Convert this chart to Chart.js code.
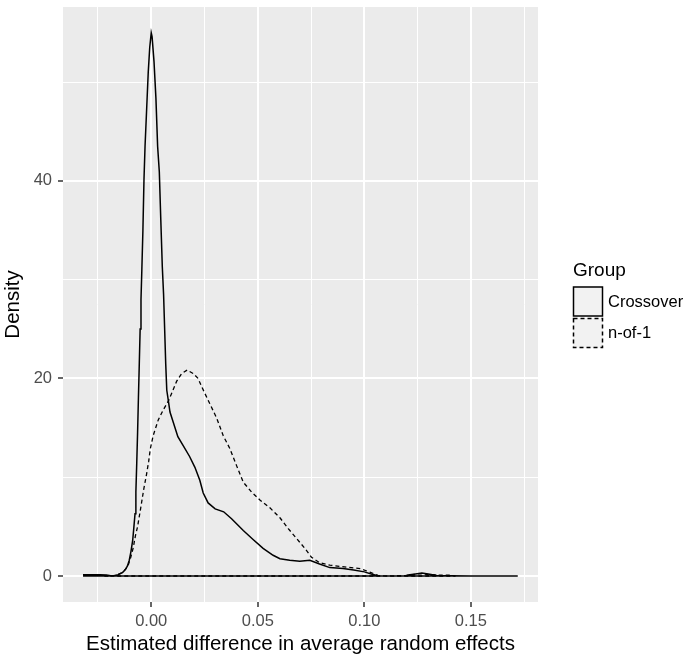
<!DOCTYPE html>
<html>
<head>
<meta charset="utf-8">
<script src="https://cdn.jsdelivr.net/npm/chart.js@4"></script>
<style>
  html, body { margin: 0; padding: 0; background: #fff; }
</style>
</head>
<body>
<canvas id="densityChart" width="693" height="662"></canvas>
<script>
// density estimates
var crossoverX = [-0.032, -0.028, -0.024, -0.021, -0.019, -0.017, -0.0155, -0.0135, -0.0123, -0.0112,
  -0.0103, -0.0095, -0.0087, -0.0082, -0.0076, -0.0072, -0.0068, -0.0064, -0.0060, -0.0056,
  -0.0052, -0.0048, -0.0044, -0.0039, -0.0034, -0.0029, -0.0022, -0.0014, -0.0007, 0.0000,
  0.0004, 0.0013, 0.0022, 0.0030, 0.0038, 0.0045, 0.0052, 0.0058, 0.0063, 0.0068,
  0.0073, 0.0080, 0.0088, 0.0103, 0.0125, 0.0150, 0.0180, 0.0205, 0.0228, 0.0244,
  0.0267, 0.0300, 0.0340, 0.0377, 0.0432, 0.0478, 0.0525, 0.0572, 0.0604, 0.0650,
  0.0697, 0.0744, 0.0790, 0.0838, 0.0900, 0.0950, 0.1000, 0.1040, 0.1065, 0.1120,
  0.1190, 0.1205, 0.1240, 0.1270, 0.1300, 0.1340, 0.1400, 0.1500, 0.1720];
var crossoverY = [0.12, 0.14, 0.12, 0.10, 0.02, 0.05, 0.14, 0.35, 0.6, 1.0,
  1.6, 2.5, 3.6, 4.8, 6.3, 8.5, 11.4, 14.5, 18.1, 21.5,
  25.0, 28.0, 31.0, 35.0, 40.1, 43.5, 47.0, 51.0, 53.5, 55.0,
  54.6, 52.1, 48.4, 43.5, 40.9, 36.0, 31.3, 28.5, 25.0, 21.5,
  18.8, 17.8, 16.6, 15.6, 14.1, 13.2, 12.1, 11.0, 9.7, 8.4,
  7.4, 6.8, 6.5, 5.8, 4.6, 3.7, 2.8, 2.1, 1.75, 1.6,
  1.5, 1.6, 1.22, 0.85, 0.75, 0.6, 0.42, 0.15, 0.02, 0,
  0, 0.1, 0.2, 0.3, 0.2, 0.05, 0.02, 0, 0];

var nOf1X = [-0.022, -0.0194, -0.0165, -0.0146, -0.0130, -0.0118, -0.0108, -0.0096, -0.0084, -0.0074,
  -0.0064, -0.0050, -0.0035, -0.0022, -0.0012, -0.0004, 0.0009, 0.0033, 0.0056, 0.0080,
  0.0096, 0.0119, 0.0143, 0.0169, 0.0197, 0.0220, 0.0236, 0.0267, 0.0307, 0.0338,
  0.0369, 0.0400, 0.0432, 0.0471, 0.0510, 0.0557, 0.0604, 0.0643, 0.0682, 0.0721,
  0.0752, 0.0790, 0.0838, 0.0917, 0.0980, 0.1026, 0.1065, 0.1100, 0.1200, 0.1260,
  0.1300, 0.1350, 0.1400, 0.1425];
var nOf1Y = [0, 0, 0.08, 0.24, 0.5, 0.75, 1.1, 1.9, 2.9, 4.1,
  5.0, 6.8, 8.8, 10.3, 11.6, 12.9, 14.2, 15.8, 16.8, 17.7,
  18.5, 19.7, 20.5, 20.85, 20.5, 20.0, 19.2, 17.8, 16.0, 14.2,
  12.9, 11.2, 9.5, 8.5, 7.7, 6.9, 5.9, 4.8, 3.8, 2.8,
  1.9, 1.35, 1.1, 0.9, 0.75, 0.4, 0.05, 0, 0.05, 0.25,
  0.15, 0.1, 0.08, 0.02];

var groupLabels = ['Crossover', 'n-of-1'];

var xGridValues = [-0.025, 0, 0.025, 0.05, 0.075, 0.1, 0.125, 0.15, 0.175];
var xMajorValues = [0, 0.05, 0.1, 0.15];
var xTickLabels = ['0.00', '0.05', '0.10', '0.15'];
var yGridValues = [0, 10, 20, 30, 40, 50];
var yMajorValues = [0, 20, 40];
var yTickLabels = ['0', '20', '40'];

var FONT = '"Liberation Sans", Arial, sans-serif';

// outline goes along the curve and back along the baseline, like geom_density
function outline(xs, ys) {
  var pts = xs.map(function (x, i) { return { x: x, y: ys[i] }; });
  pts.push({ x: xs[xs.length - 1], y: 0 });
  pts.push({ x: xs[0], y: 0 });
  return pts;
}

function majorIndex(list, v) {
  for (var i = 0; i < list.length; i++) {
    if (Math.abs(list[i] - v) < 1e-9) return i;
  }
  return -1;
}

var panelBackground = {
  id: 'panelBackground',
  beforeDraw: function (chart) {
    var a = chart.chartArea;
    var ctx = chart.ctx;
    ctx.save();
    ctx.fillStyle = '#ebebeb';
    ctx.fillRect(a.left, a.top, a.right - a.left, a.bottom - a.top);
    ctx.restore();
  }
};

var groupLegend = {
  id: 'groupLegend',
  afterDraw: function (chart, args, opts) {
    var ctx = chart.ctx;
    ctx.save();
    ctx.textBaseline = 'middle';
    ctx.textAlign = 'left';
    ctx.fillStyle = '#000';
    ctx.font = '19px ' + FONT;
    ctx.fillText(opts.title, 573, 271);
    chart.data.datasets.forEach(function (ds, i) {
      var top = 286.5 + i * 31.5;
      ctx.fillStyle = '#f2f2f2';
      ctx.fillRect(573, top, 30, 30);
      ctx.strokeStyle = ds.borderColor;
      ctx.lineWidth = 1.5;
      ctx.setLineDash(ds.borderDash || []);
      ctx.strokeRect(573.5, top + 0.5, 29, 29);
      ctx.setLineDash([]);
      ctx.fillStyle = '#000';
      ctx.font = '16.5px ' + FONT;
      ctx.fillText(ds.label, 608, top + 15.5);
    });
    ctx.restore();
  }
};

var ctx = document.getElementById('densityChart').getContext('2d');
var densityChart = new Chart(ctx, {
  type: 'line',
  data: {
    datasets: [
      {
        label: groupLabels[0],
        data: outline(crossoverX, crossoverY),
        borderColor: '#000',
        backgroundColor: '#f2f2f2',
        borderWidth: 1.5,
        pointRadius: 0,
        tension: 0,
        fill: false
      },
      {
        label: groupLabels[1],
        data: outline(nOf1X, nOf1Y),
        borderColor: '#000',
        backgroundColor: '#f2f2f2',
        borderWidth: 1.3,
        borderDash: [4, 3],
        pointRadius: 0,
        tension: 0,
        fill: false
      }
    ]
  },
  options: {
    responsive: false,
    animation: false,
    layout: { padding: { left: 0, right: 155, top: 7, bottom: 0 } },
    plugins: {
      legend: { display: false },
      tooltip: { enabled: false },
      groupLegend: { title: 'Group' }
    },
    scales: {
      x: {
        type: 'linear',
        min: -0.0414,
        max: 0.1815,
        afterFit: function (scale) {
          scale.height = 60;
          scale.paddingLeft = 0;
          scale.paddingRight = 0;
        },
        afterBuildTicks: function (scale) {
          scale.ticks = xGridValues.map(function (v) { return { value: v }; });
        },
        border: { display: false },
        grid: {
          color: '#ffffff',
          lineWidth: function (c) { return majorIndex(xMajorValues, c.tick.value) >= 0 ? 2 : 1; },
          tickColor: function (c) { return majorIndex(xMajorValues, c.tick.value) >= 0 ? '#333333' : 'rgba(0,0,0,0)'; },
          tickWidth: 1.5,
          tickLength: 5
        },
        ticks: {
          autoSkip: false,
          maxRotation: 0,
          padding: 5,
          color: '#4d4d4d',
          font: { family: FONT, size: 16.5 },
          callback: function (v) {
            var i = majorIndex(xMajorValues, v);
            return i >= 0 ? xTickLabels[i] : '';
          }
        },
        title: {
          display: true,
          text: 'Estimated difference in average random effects',
          color: '#000',
          font: { family: FONT, size: 20.5 },
          padding: { top: 0, bottom: 5.5 }
        }
      },
      y: {
        type: 'linear',
        min: -2.63,
        max: 57.6,
        afterFit: function (scale) {
          scale.width = 63;
          scale.paddingTop = 0;
          scale.paddingBottom = 0;
        },
        afterBuildTicks: function (scale) {
          scale.ticks = yGridValues.map(function (v) { return { value: v }; });
        },
        border: { display: false },
        grid: {
          color: '#ffffff',
          lineWidth: function (c) { return majorIndex(yMajorValues, c.tick.value) >= 0 ? 2 : 1; },
          tickColor: function (c) { return majorIndex(yMajorValues, c.tick.value) >= 0 ? '#333333' : 'rgba(0,0,0,0)'; },
          tickWidth: 1.5,
          tickLength: 5
        },
        ticks: {
          autoSkip: false,
          padding: 6,
          color: '#4d4d4d',
          font: { family: FONT, size: 16.5 },
          callback: function (v) {
            var i = majorIndex(yMajorValues, v);
            return i >= 0 ? yTickLabels[i] : '';
          }
        },
        title: {
          display: true,
          text: 'Density',
          color: '#000',
          font: { family: FONT, size: 20.5 },
          padding: { top: 1.5, bottom: 0 }
        }
      }
    }
  },
  plugins: [panelBackground, groupLegend]
});
</script>
</body>
</html>
